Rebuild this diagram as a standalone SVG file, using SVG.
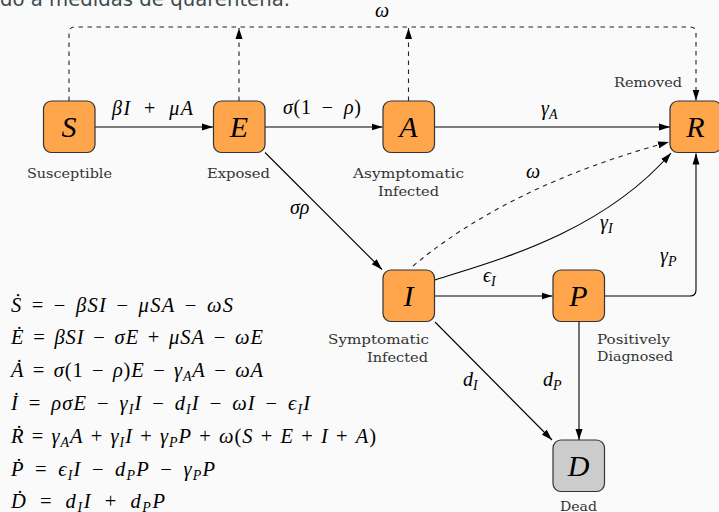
<svg xmlns="http://www.w3.org/2000/svg" width="719" height="512" viewBox="0 0 719 512">
<defs>
<style>
.bg{fill:#fafafa}
.nd{fill:#ffa64d;stroke:#333;stroke-width:1.2}
.dd{fill:#cccccc;stroke:#333;stroke-width:1.2}
.nl{font-family:'Liberation Serif','Times New Roman',serif;font-style:italic;font-size:30px;fill:#000;text-anchor:middle}
.cap{font-family:'DejaVu Serif',serif;font-size:13.5px;fill:#333}
.m{font-family:'Liberation Serif','Times New Roman',serif;font-style:italic;font-size:20px;fill:#000}
.q{font-size:20.5px}
.u{font-style:normal}
.s{font-size:14px}
.e{stroke:#000;stroke-width:1.1;fill:none}
.d{stroke:#222;stroke-width:1.1;fill:none;stroke-dasharray:4.5 4.5}
.t{font-family:'DejaVu Sans',sans-serif;font-size:19.5px;fill:#3b4a4f}
</style>
<marker id="ah" markerUnits="userSpaceOnUse" markerWidth="12" markerHeight="8" refX="11" refY="4" orient="auto"><path d="M0,0.5 L11,4 L0,7.5 z" fill="#000"/></marker>
</defs>
<rect class="bg" x="0" y="0" width="719" height="512"/>
<text class="t" x="0" y="6" textLength="290" lengthAdjust="spacingAndGlyphs">do a medidas de quarentena.</text>

<g id="connectors">
<path class="d" d="M69,101 V33 Q69,27 75,27 H690 Q696,27 696,33 V100.5" marker-end="url(#ah)"/>
<path class="d" d="M239,101 V28" marker-end="url(#ah)"/>
<path class="d" d="M408.5,101 V28" marker-end="url(#ah)"/>
<path class="e" d="M95,127 H213" marker-end="url(#ah)"/>
<path class="e" d="M265,127 H382.5" marker-end="url(#ah)"/>
<path class="e" d="M434.5,127 H670" marker-end="url(#ah)"/>
<path class="e" d="M265,152.5 L382,269.5" marker-end="url(#ah)"/>
<path class="e" d="M434.5,296 H552.5" marker-end="url(#ah)"/>
<path class="e" d="M435,280 C490,262 600,235 671,153" marker-end="url(#ah)"/>
<path class="d" d="M413,266 Q510,185 669,142" marker-end="url(#ah)"/>
<path class="e" d="M604.5,296 H690 Q696,296 696,290 V153.5" marker-end="url(#ah)"/>
<path class="e" d="M435,322 L552,440" marker-end="url(#ah)"/>
<path class="e" d="M579,322 V440" marker-end="url(#ah)"/>
<text class="m" x="112" y="114.5" word-spacing="6" textLength="81" lengthAdjust="spacing">βI<tspan class="u"> + </tspan>μA</text>
<text class="m" x="283" y="114" word-spacing="4.5" textLength="78" lengthAdjust="spacing">σ<tspan class="u">(1 − </tspan>ρ<tspan class="u">)</tspan></text>
<text class="m" x="541" y="115">γ<tspan class="s" dy="4">A</tspan></text>
<text class="m" x="375" y="17">ω</text>
<text class="m" x="526" y="178">ω</text>
<text class="m" x="290" y="214">σρ</text>
<text class="m" x="600" y="229">γ<tspan class="s" dy="4">I</tspan></text>
<text class="m" x="660" y="262">γ<tspan class="s" dy="4">P</tspan></text>
<text class="m" x="483" y="282">ϵ<tspan class="s" dy="4">I</tspan></text>
<text class="m" x="463" y="386">d<tspan class="s" dy="4">I</tspan></text>
<text class="m" x="543" y="386">d<tspan class="s" dy="4">P</tspan></text>
</g>

<g id="node-S">
<rect class="nd" x="43.5" y="101" width="51.5" height="51.5" rx="8"/>
<text class="nl" x="69" y="137">S</text>
<text class="cap" x="27" y="177.5" textLength="85" lengthAdjust="spacingAndGlyphs">Susceptible</text>
</g>
<g id="node-E">
<rect class="nd" x="213.5" y="101" width="51.5" height="51.5" rx="8"/>
<text class="nl" x="239" y="137">E</text>
<text class="cap" x="207" y="177.5" textLength="63" lengthAdjust="spacingAndGlyphs">Exposed</text>
</g>
<g id="node-A">
<rect class="nd" x="383" y="101" width="51.5" height="51.5" rx="8"/>
<text class="nl" x="408.5" y="137">A</text>
<text class="cap" x="353" y="177.5" textLength="111" lengthAdjust="spacingAndGlyphs">Asymptomatic</text>
<text class="cap" x="378" y="195.5" textLength="61" lengthAdjust="spacingAndGlyphs">Infected</text>
</g>
<g id="node-R">
<rect class="nd" x="670" y="101" width="51.5" height="51.5" rx="8"/>
<text class="nl" x="695.5" y="137">R</text>
<text class="cap" x="614" y="86.5" textLength="68" lengthAdjust="spacingAndGlyphs">Removed</text>
</g>
<g id="node-I">
<rect class="nd" x="383" y="270" width="51.5" height="51.5" rx="8"/>
<text class="nl" x="408.5" y="306">I</text>
<text class="cap" x="328" y="343.5" textLength="101" lengthAdjust="spacingAndGlyphs">Symptomatic</text>
<text class="cap" x="367" y="361.5" textLength="61" lengthAdjust="spacingAndGlyphs">Infected</text>
</g>
<g id="node-P">
<rect class="nd" x="553" y="270" width="51.5" height="51.5" rx="8"/>
<text class="nl" x="578.5" y="306">P</text>
<text class="cap" x="597" y="343.5" textLength="73" lengthAdjust="spacingAndGlyphs">Positively</text>
<text class="cap" x="597" y="361" textLength="76" lengthAdjust="spacingAndGlyphs">Diagnosed</text>
</g>
<g id="node-D">
<rect class="dd" x="553" y="440" width="51.5" height="51.5" rx="8"/>
<text class="nl" x="578.5" y="476">D</text>
<text class="cap" x="560" y="510.5" textLength="37" lengthAdjust="spacingAndGlyphs">Dead</text>
</g>

<g id="equations">
<text class="m q" x="11" y="311.5" word-spacing="2.7" textLength="222" lengthAdjust="spacing">Ṡ<tspan class="u"> = − </tspan>βSI<tspan class="u"> − </tspan>μSA<tspan class="u"> − </tspan>ωS</text>
<text class="m q" x="11" y="344.3" word-spacing="2.6" textLength="252" lengthAdjust="spacing">Ė<tspan class="u"> = </tspan>βSI<tspan class="u"> − </tspan>σE<tspan class="u"> + </tspan>μSA<tspan class="u"> − </tspan>ωE</text>
<text class="m q" x="11" y="377.1" word-spacing="2.5" textLength="252" lengthAdjust="spacing">Ȧ<tspan class="u"> = </tspan>σ<tspan class="u">(1 − </tspan>ρ<tspan class="u">)</tspan>E<tspan class="u"> − </tspan>γ<tspan class="s" dy="4">A</tspan><tspan dy="-4">A</tspan><tspan class="u"> − </tspan>ωA</text>
<text class="m q" x="11" y="409.9" word-spacing="3.7" textLength="299" lengthAdjust="spacing">İ<tspan class="u"> = </tspan>ρσE<tspan class="u"> − </tspan>γ<tspan class="s" dy="4">I</tspan><tspan dy="-4">I</tspan><tspan class="u"> − </tspan>d<tspan class="s" dy="4">I</tspan><tspan dy="-4">I</tspan><tspan class="u"> − </tspan>ωI<tspan class="u"> − </tspan>ϵ<tspan class="s" dy="4">I</tspan><tspan dy="-4">I</tspan></text>
<text class="m q" x="11" y="442.7" word-spacing="1.2" textLength="365" lengthAdjust="spacing">Ṙ<tspan class="u"> = </tspan>γ<tspan class="s" dy="4">A</tspan><tspan dy="-4">A</tspan><tspan class="u"> + </tspan>γ<tspan class="s" dy="4">I</tspan><tspan dy="-4">I</tspan><tspan class="u"> + </tspan>γ<tspan class="s" dy="4">P</tspan><tspan dy="-4">P</tspan><tspan class="u"> + </tspan>ω<tspan class="u">(</tspan>S<tspan class="u"> + </tspan>E<tspan class="u"> + </tspan>I<tspan class="u"> + </tspan>A<tspan class="u">)</tspan></text>
<text class="m q" x="11" y="475.5" word-spacing="4.1" textLength="204" lengthAdjust="spacing">Ṗ<tspan class="u"> = </tspan>ϵ<tspan class="s" dy="4">I</tspan><tspan dy="-4">I</tspan><tspan class="u"> − </tspan>d<tspan class="s" dy="4">P</tspan><tspan dy="-4">P</tspan><tspan class="u"> − </tspan>γ<tspan class="s" dy="4">P</tspan><tspan dy="-4">P</tspan></text>
<text class="m q" x="11" y="508" word-spacing="5.7" textLength="154" lengthAdjust="spacing">Ḋ<tspan class="u"> = </tspan>d<tspan class="s" dy="3.5">I</tspan><tspan dy="-3.5">I</tspan><tspan class="u"> + </tspan>d<tspan class="s" dy="3.5">P</tspan><tspan dy="-3.5">P</tspan></text>
</g>
</svg>
